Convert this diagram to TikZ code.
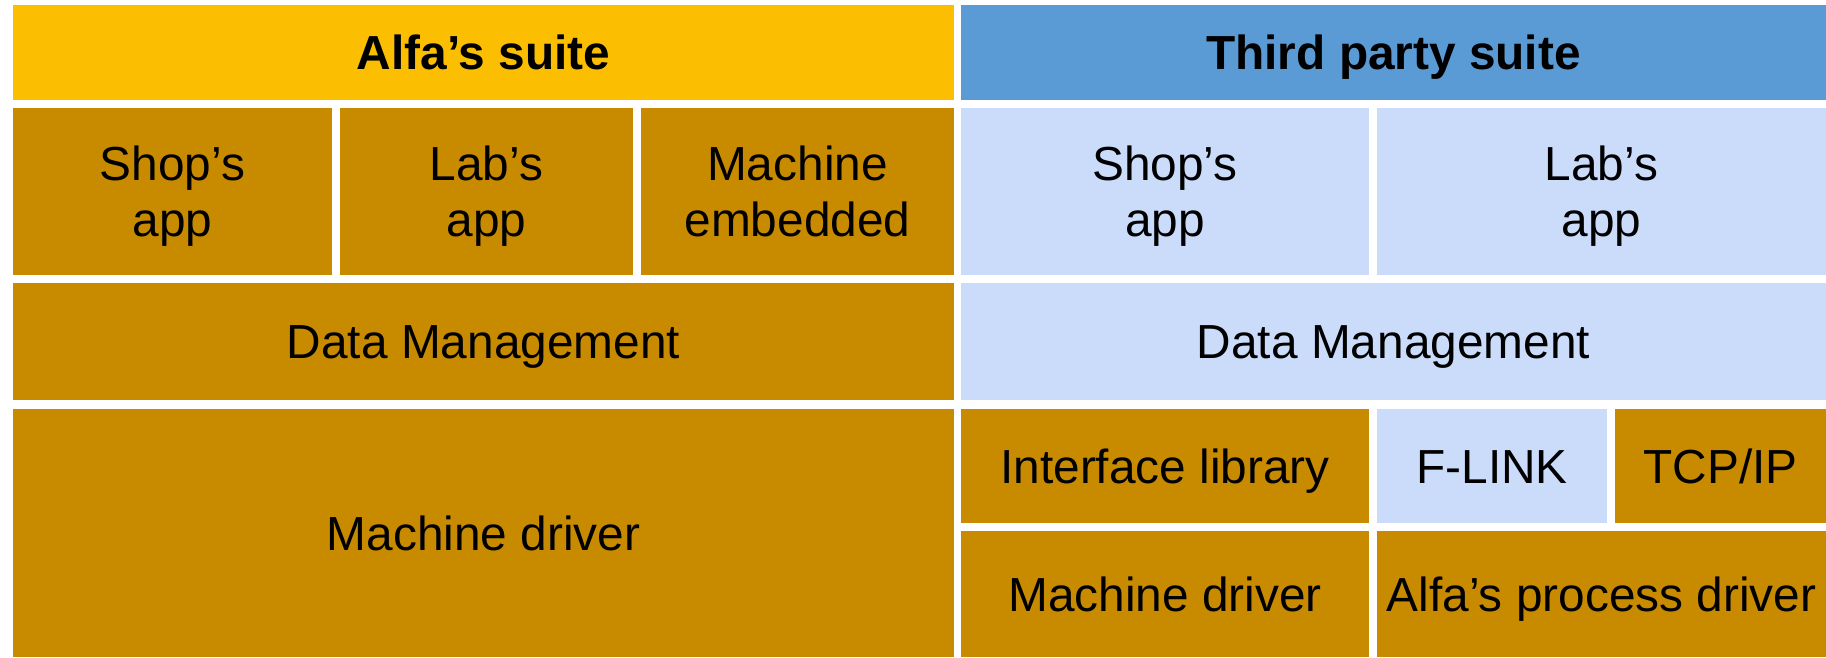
\documentclass[tikz,border=0pt]{standalone}
\usepackage{fontspec}
\setmainfont{Liberation Sans}
\usepackage{tikz}

\definecolor{alfahead}{RGB}{252,190,0}
\definecolor{thirdhead}{RGB}{91,155,213}
\definecolor{gold}{RGB}{200,139,0}
\definecolor{pale}{RGB}{203,220,251}

\tikzset{
  cell/.style={inner sep=0pt, align=center, font=\fontsize{47.8}{56}\selectfont,
    text height=34.5pt, text depth=0pt},
  twoline/.style={text height=90.5pt},
  head/.style={cell, font=\fontsize{47.8}{56}\selectfont\bfseries}
}

\begin{document}
\begin{tikzpicture}[x=1pt,y=-1pt]
\useasboundingbox (0,0) rectangle (1826,657);
% suite headers
\node[head, fill=alfahead, minimum width=941pt, minimum height=95pt] (alfa) at (483.5,52.5) {Alfa’s suite};
\node[head, fill=thirdhead, minimum width=865pt, minimum height=95pt] (third) at (1393.5,52.5) {Third party suite};
% Alfa's suite
\node[cell, twoline, fill=gold, minimum width=319pt, minimum height=167pt] (shopA) at (172.5,191.5) {Shop’s\\app};
\node[cell, twoline, fill=gold, minimum width=293pt, minimum height=167pt] (labA) at (486.5,191.5) {Lab’s\\app};
\node[cell, twoline, fill=gold, minimum width=313pt, minimum height=167pt] (embA) at (797.5,191.5) {Machine\\embedded};
\node[cell, fill=gold, minimum width=941pt, minimum height=117pt] (dataA) at (483.5,341.5) {Data Management};
\node[cell, fill=gold, minimum width=941pt, minimum height=248pt] (drvA) at (483.5,533) {Machine driver};
% third party suite
\node[cell, twoline, fill=pale, minimum width=408pt, minimum height=167pt] (shopT) at (1165,191.5) {Shop’s\\app};
\node[cell, twoline, fill=pale, minimum width=449pt, minimum height=167pt] (labT) at (1601.5,191.5) {Lab’s\\app};
\node[cell, fill=pale, minimum width=865pt, minimum height=117pt] (dataT) at (1393.5,341.5) {Data Management};
\node[cell, fill=gold, minimum width=408pt, minimum height=114pt] (iflib) at (1165,466) {Interface library};
\node[cell, fill=pale, minimum width=230pt, minimum height=114pt] (flink) at (1492,466) {F-LINK};
\node[cell, fill=gold, minimum width=211pt, minimum height=114pt] (tcpip) at (1720.5,466) {TCP/IP};
\node[cell, fill=gold, minimum width=408pt, minimum height=126pt] (drvT) at (1165,594) {Machine driver};
\node[cell, fill=gold, minimum width=449pt, minimum height=126pt] (procT) at (1601.5,594) {Alfa’s process driver};
\end{tikzpicture}
\end{document}
